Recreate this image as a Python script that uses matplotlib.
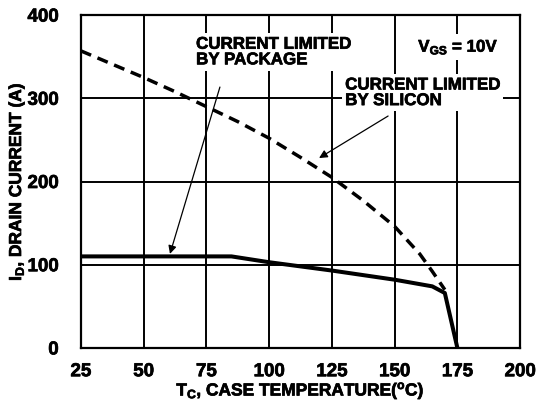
import numpy as np
import matplotlib
matplotlib.use('Agg')
import matplotlib.pyplot as plt
import matplotlib.patheffects as pe

plt.rcParams['font.family'] = ['Liberation Sans', 'DejaVu Sans']
plt.rcParams['font.weight'] = 'bold'
plt.rcParams['mathtext.fontset'] = 'custom'
plt.rcParams['mathtext.rm'] = 'Liberation Sans:bold'
plt.rcParams['mathtext.it'] = 'Liberation Sans:bold'
plt.rcParams['mathtext.bf'] = 'Liberation Sans:bold'
plt.rcParams['mathtext.default'] = 'rm'

# package limited current (solid)
t_pkg = [25, 85, 100, 125, 150, 165, 170, 175]
i_pkg = [110, 110, 103, 93, 82, 74, 66, 0]

# silicon limited current (dashed)
t_si = [25, 37.5, 50, 62.5, 75, 87.5, 100, 112.5, 125, 137.5, 150, 160, 165, 170]
i_si = [357, 341, 325, 308, 290, 272, 252, 229, 205, 177, 146, 113, 92, 70]

xticks = [25, 50, 75, 100, 125, 150, 175, 200]
yticks = [0, 100, 200, 300, 400]

thick = [pe.withStroke(linewidth=0.5, foreground='black')]

fig = plt.figure(figsize=(5.39, 4.02), dpi=100)
ax = fig.add_axes([0.150, 0.132, 0.815, 0.828])

ax.plot(t_si, i_si, color='black', lw=2.5, ls=(0, (3.2, 2.0)), zorder=3)
ax.plot(t_pkg, i_pkg, color='black', lw=2.9, zorder=3)

ax.set_xlim(25, 200)
ax.set_ylim(0, 400)
ax.set_xticks(xticks)
ax.set_yticks(yticks)
ax.set_xticklabels([str(v) for v in xticks], fontsize=13.5, fontweight='bold')
ax.set_yticklabels([str(v) for v in yticks], fontsize=13.5, fontweight='bold')
ax.grid(True, color='black', lw=1.4)
ax.tick_params(length=0)
ax.tick_params(axis='x', pad=11)
ax.tick_params(axis='y', pad=16)
for lab in ax.get_xticklabels() + ax.get_yticklabels():
    lab.set_path_effects(thick)
for s in ax.spines.values():
    s.set_linewidth(1.6)

xl = ax.set_xlabel(r'T$_{C}$, CASE TEMPERATURE($^{o}$C)',
                   fontsize=12.5, fontweight='bold', labelpad=0)
yl = ax.set_ylabel(r'I$_{D}$, DRAIN CURRENT (A)',
                   fontsize=12.5, fontweight='bold', labelpad=1)
xl.set_path_effects(thick)
yl.set_path_effects(thick)

box = dict(facecolor='white', edgecolor='none', pad=2.5)
t1 = ax.text(70.9, 374, 'CURRENT LIMITED\nBY PACKAGE', fontsize=12.2, fontweight='bold',
             va='top', ha='left', bbox=box, zorder=4, linespacing=1.05)
t2 = ax.text(130.3, 325, 'CURRENT LIMITED\nBY SILICON', fontsize=12.2, fontweight='bold',
             va='top', ha='left', bbox=box, zorder=4, linespacing=1.05)
t3 = ax.text(159.4, 361.6, r'V$_{GS}$ = 10V', fontsize=12.2, fontweight='bold',
             va='center', ha='left', bbox=box, zorder=4)
for t in (t1, t2, t3):
    t.set_path_effects(thick)

arrow = dict(arrowstyle='-|>', lw=0.9, color='black', mutation_scale=12,
             shrinkA=0, shrinkB=0)
ax.annotate('', xy=(60.5, 113), xytext=(80.4, 313.5), arrowprops=arrow, zorder=5)
ax.annotate('', xy=(119.9, 228.2), xytext=(147.4, 278.7), arrowprops=arrow, zorder=5)

fig.savefig('out.png', dpi=100)
